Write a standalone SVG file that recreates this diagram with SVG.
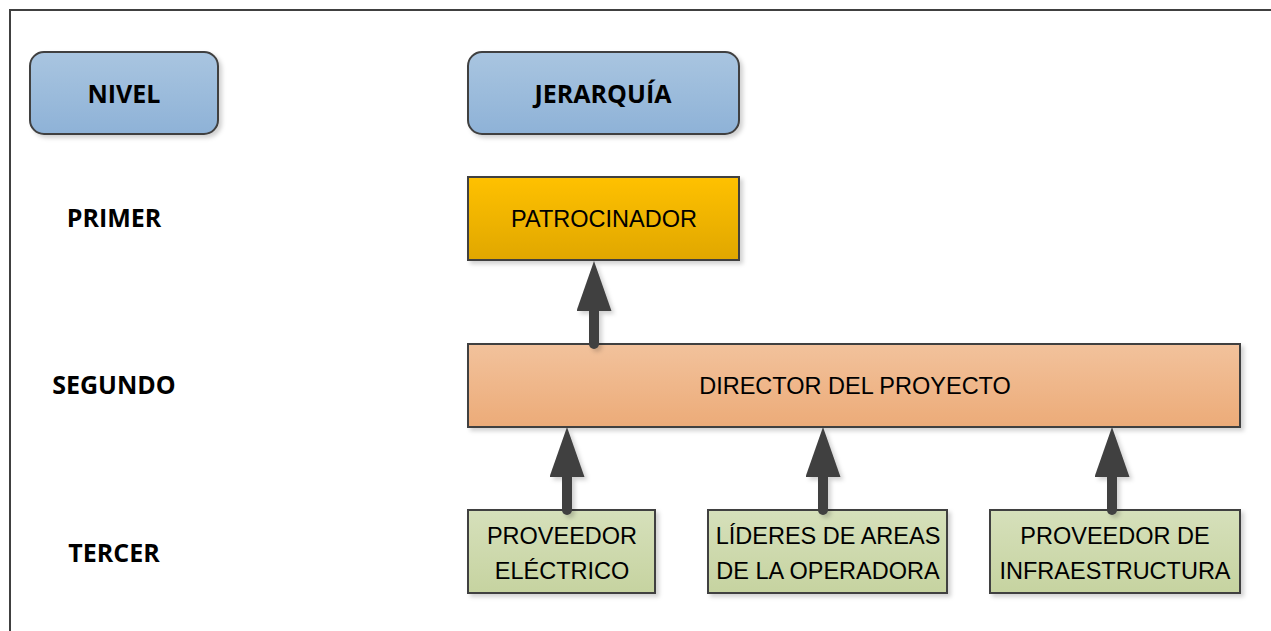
<svg xmlns="http://www.w3.org/2000/svg" width="1271" height="631" viewBox="0 0 1271 631">
<defs>
<linearGradient id="gBlue" x1="0" y1="0" x2="0" y2="1"><stop offset="0" stop-color="#a9c5e0"/><stop offset="1" stop-color="#8eb2d7"/></linearGradient>
<linearGradient id="gGold" x1="0" y1="0" x2="0" y2="1"><stop offset="0" stop-color="#ffc100"/><stop offset="1" stop-color="#e0a700"/></linearGradient>
<linearGradient id="gOrange" x1="0" y1="0" x2="0" y2="1"><stop offset="0" stop-color="#f2c29c"/><stop offset="1" stop-color="#ecab78"/></linearGradient>
<linearGradient id="gGreen" x1="0" y1="0" x2="0" y2="1"><stop offset="0" stop-color="#d6e0bb"/><stop offset="1" stop-color="#c6d3a0"/></linearGradient>
<filter id="sh" filterUnits="userSpaceOnUse" x="0" y="0" width="1271" height="631"><feDropShadow dx="3" dy="3" stdDeviation="2" flood-color="#000" flood-opacity="0.18"/></filter>
<marker id="ah" viewBox="0 0 50 35" refX="11" refY="17.5" markerWidth="50" markerHeight="35" markerUnits="userSpaceOnUse" orient="auto"><path d="M0,0 L50,17.5 L0,35 Z" fill="#404040"/></marker>
</defs>
<style>
.box{stroke:#404040;stroke-width:2;filter:url(#sh)}
.t{font-family:"Liberation Sans",Arial,sans-serif;font-size:23.5px;fill:#000;text-anchor:middle}
.b{font-family:"Open Sans","Liberation Sans",Arial,sans-serif;font-weight:bold;font-size:25px;fill:#000;text-anchor:middle}
.con{stroke:#404040;stroke-width:10;stroke-linecap:round;fill:none}
</style>
<rect width="1271" height="631" fill="#fff"/>
<path d="M10,631 V10 H1271" fill="none" stroke="#404040" stroke-width="2"/>
<g id="nivel"><rect class="box" x="30" y="52" width="188" height="82" rx="14" fill="url(#gBlue)"/><text class="b" x="124" y="103">NIVEL</text></g>
<g id="jerarquia"><rect class="box" x="468" y="52" width="271" height="82" rx="14" fill="url(#gBlue)"/><text class="b" x="603" y="103">JERARQUÍA</text></g>
<g id="primer"><text class="b" x="114" y="227">PRIMER</text></g>
<g id="segundo"><text class="b" x="114" y="394">SEGUNDO</text></g>
<g id="tercer"><text class="b" x="114" y="562">TERCER</text></g>
<g id="patrocinador"><rect class="box" x="468" y="177" width="271" height="83" fill="url(#gGold)"/><text class="t" x="604" y="227">PATROCINADOR</text></g>
<g id="director"><rect class="box" x="468" y="344" width="772" height="83" fill="url(#gOrange)"/><text class="t" x="855" y="394">DIRECTOR DEL PROYECTO</text></g>
<g id="electrico"><rect class="box" x="468" y="510" width="187" height="83" fill="url(#gGreen)"/><text class="t" x="562" y="544">PROVEEDOR</text><text class="t" x="562" y="579">ELÉCTRICO</text></g>
<g id="lideres"><rect class="box" x="708" y="510" width="239" height="83" fill="url(#gGreen)"/><text class="t" x="828" y="544">LÍDERES DE AREAS</text><text class="t" x="828" y="579">DE LA OPERADORA</text></g>
<g id="infra"><rect class="box" x="990" y="510" width="250" height="83" fill="url(#gGreen)"/><text class="t" x="1115" y="544">PROVEEDOR DE</text><text class="t" x="1115" y="579">INFRAESTRUCTURA</text></g>
<g id="connectors" filter="url(#sh)">
<path class="con" d="M594,344 V300" marker-end="url(#ah)"/>
<path class="con" d="M567,510 V466" marker-end="url(#ah)"/>
<path class="con" d="M823,510 V466" marker-end="url(#ah)"/>
<path class="con" d="M1112,510 V466" marker-end="url(#ah)"/>
</g>
</svg>
